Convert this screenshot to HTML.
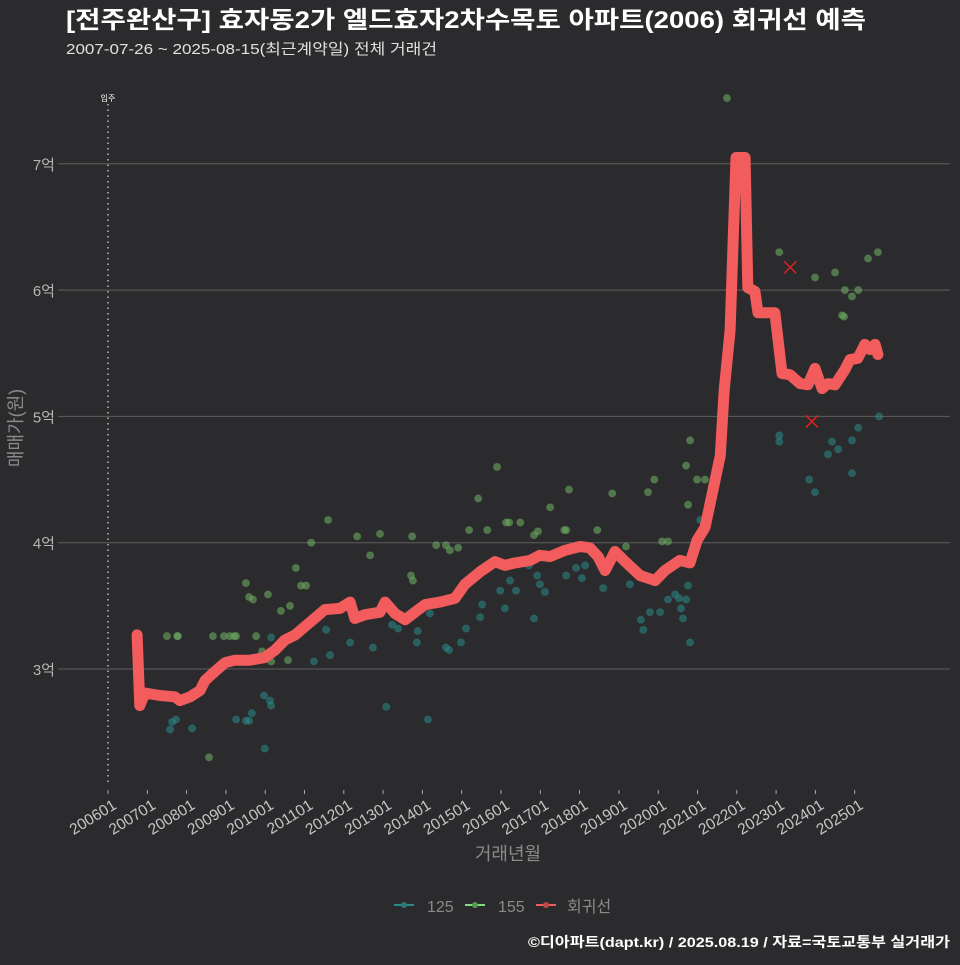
<!DOCTYPE html>
<html><head><meta charset="utf-8"><style>
html,body{margin:0;padding:0;background:#2b2b2d;}
body{width:960px;height:960px;overflow:hidden;font-family:"Liberation Sans","Noto Sans CJK KR",sans-serif;}
</style></head><body>
<svg id="chart" width="960" height="960" viewBox="0 0 960 960" xmlns="http://www.w3.org/2000/svg" style="font-family:'Liberation Sans','Noto Sans CJK KR',sans-serif">
<rect width="960" height="960" fill="#2b2b2d"/>
<text x="66" y="28" font-size="24" font-weight="bold" fill="#ffffff" textLength="800" lengthAdjust="spacingAndGlyphs">[전주완산구] 효자동2가 엘드효자2차수목토 아파트(2006) 회귀선 예측</text>
<text x="66" y="54" font-size="15" fill="#e0e0e0" textLength="371" lengthAdjust="spacingAndGlyphs">2007-07-26 ~ 2025-08-15(최근계약일) 전체 거래건</text>
<g id="grid"></g>
<g id="marks"></g>
<g id="xaxis"></g>
<text x="508" y="860" font-size="18" fill="#8a8a8a" text-anchor="middle">거래년월</text>
<text transform="translate(22,428) rotate(-90)" font-size="18" fill="#8a8a8a" text-anchor="middle">매매가(원)</text>
<g>
 <g><line x1="394" y1="905" x2="414" y2="905" stroke="#2a8a88" stroke-width="2"/><circle cx="404" cy="905" r="3" fill="#2a7a78"/><text x="427" y="912" font-size="16" fill="#8a8a8a">125</text></g>
 <g><line x1="465" y1="905" x2="485" y2="905" stroke="#7ee07a" stroke-width="2"/><circle cx="475" cy="905" r="3" fill="#5a9a50"/><text x="498" y="912" font-size="16" fill="#8a8a8a">155</text></g>
 <g><line x1="536" y1="905" x2="556" y2="905" stroke="#f25c5c" stroke-width="2"/><circle cx="546" cy="905" r="3" fill="#c04848"/><text x="567" y="912" font-size="16" fill="#8a8a8a">회귀선</text></g>
</g>
<text x="528" y="947" font-size="14" font-weight="bold" fill="#ffffff" textLength="422" lengthAdjust="spacingAndGlyphs">©디아파트(dapt.kr) / 2025.08.19 / 자료=국토교통부 실거래가</text>
</svg>
<script>
const yTicks=[3,4,5,6,7];
const yTickLabels=["3억","4억","5억","6억","7억"];
const xTickYears=[2006,2007,2008,2009,2010,2011,2012,2013,2014,2015,2016,2017,2018,2019,2020,2021,2022,2023,2024,2025];
const xTickLabels=["200601","200701","200801","200901","201001","201101","201201","201301","201401","201501","201601","201701","201801","201901","202001","202101","202201","202301","202401","202501"];
const moveInYear=2006;
const regYears=[2006.74,2006.81,2006.94,2007.32,2007.70,2007.83,2008.09,2008.34,2008.47,2008.72,2008.98,2009.23,2009.61,2009.99,2010.25,2010.50,2010.76,2011.14,2011.52,2011.90,2012.16,2012.28,2012.54,2012.92,2013.05,2013.30,2013.56,2013.81,2014.07,2014.45,2014.83,2015.08,2015.47,2015.85,2016.10,2016.36,2016.74,2016.99,2017.25,2017.63,2018.01,2018.26,2018.47,2018.65,2018.90,2019.16,2019.54,2019.92,2020.17,2020.55,2020.81,2020.99,2021.19,2021.37,2021.58,2021.68,2021.83,2021.98,2022.21,2022.28,2022.46,2022.54,2022.97,2023.15,2023.35,2023.61,2023.81,2023.99,2024.17,2024.32,2024.50,2024.75,2024.88,2025.08,2025.26,2025.39,2025.52,2025.59];
const regValues=[3.27,2.71,2.81,2.79,2.78,2.75,2.78,2.83,2.91,2.98,3.05,3.07,3.07,3.09,3.15,3.23,3.27,3.37,3.47,3.48,3.53,3.40,3.43,3.45,3.53,3.44,3.39,3.45,3.51,3.53,3.56,3.67,3.77,3.85,3.82,3.84,3.86,3.90,3.89,3.94,3.97,3.96,3.89,3.78,3.93,3.85,3.74,3.70,3.78,3.86,3.84,4.02,4.12,4.38,4.69,5.21,5.68,7.05,7.05,6.02,5.99,5.82,5.82,5.34,5.33,5.26,5.25,5.38,5.22,5.26,5.25,5.37,5.45,5.46,5.57,5.53,5.57,5.49];
const s155Years=[2007.50,2007.76,2007.78,2008.57,2008.67,2008.95,2009.10,2009.21,2009.26,2009.51,2009.59,2009.69,2009.77,2009.92,2010.07,2010.15,2010.40,2010.50,2010.58,2010.63,2010.78,2010.91,2011.04,2011.17,2011.60,2012.34,2012.67,2012.92,2013.71,2013.76,2013.74,2014.35,2014.60,2014.70,2014.91,2015.19,2015.42,2015.65,2015.90,2016.13,2016.21,2016.49,2016.84,2016.94,2017.25,2017.61,2017.66,2017.73,2018.45,2018.83,2019.18,2019.74,2019.90,2020.10,2020.25,2020.71,2020.76,2020.81,2020.99,2021.19,2021.75,2023.08,2023.99,2024.50,2024.75,2025.09,2024.93,2024.68,2024.73,2025.34,2025.59];
const s155Values=[3.26,3.26,3.26,2.30,3.26,3.26,3.26,3.26,3.26,3.68,3.57,3.55,3.26,3.14,3.59,3.06,3.46,3.21,3.07,3.50,3.80,3.66,3.66,4.00,4.18,4.05,3.90,4.07,3.74,3.70,4.05,3.98,3.98,3.94,3.96,4.10,4.35,4.10,4.60,4.16,4.16,4.16,4.06,4.09,4.28,4.10,4.10,4.42,4.10,4.39,3.97,4.40,4.50,4.01,4.01,4.61,4.30,4.81,4.50,4.50,7.52,6.30,6.10,6.14,6.00,6.00,5.95,5.80,5.79,6.25,6.30];
const s125Years=[2007.58,2007.63,2007.73,2008.14,2009.26,2009.51,2009.59,2009.66,2009.97,2009.99,2010.12,2010.15,2010.15,2010.78,2011.24,2011.55,2011.65,2012.16,2012.74,2013.08,2013.23,2013.38,2013.86,2013.88,2014.14,2014.19,2014.60,2014.68,2014.98,2015.11,2015.47,2015.52,2015.98,2016.10,2016.23,2016.38,2016.71,2016.84,2016.92,2016.99,2017.12,2017.66,2017.91,2018.06,2018.14,2018.60,2019.28,2019.56,2019.62,2019.79,2020.05,2020.25,2020.43,2020.53,2020.58,2020.63,2020.71,2020.76,2020.81,2021.07,2023.08,2023.08,2025.62,2025.09,2024.93,2024.42,2024.58,2024.32,2023.84,2023.99,2024.93];
const s125Values=[2.52,2.58,2.60,2.53,2.60,2.59,2.59,2.65,2.79,2.37,2.75,2.71,3.25,3.27,3.06,3.31,3.11,3.21,3.17,2.70,3.35,3.32,3.21,3.30,2.60,3.44,3.17,3.15,3.21,3.32,3.41,3.51,3.62,3.48,3.70,3.62,3.82,3.40,3.74,3.67,3.61,3.74,3.80,3.72,3.82,3.64,3.67,3.39,3.31,3.45,3.45,3.55,3.59,3.56,3.48,3.40,3.55,3.66,3.21,4.18,4.85,4.80,5.00,4.91,4.81,4.80,4.74,4.70,4.50,4.40,4.55];
const outlierYears=[2023.36,2023.91];
const outlierValues=[6.18,4.96];

const NS="http://www.w3.org/2000/svg";
function X(t){return 108+(t-2006)*39.3;}
function Y(v){return 669-(v-3)*126.3;}
function mk(tag,attrs,parent){const e=document.createElementNS(NS,tag);for(const k in attrs)e.setAttribute(k,attrs[k]);parent.appendChild(e);return e;}
const grid=document.getElementById('grid'),marks=document.getElementById('marks'),xa=document.getElementById('xaxis');
yTicks.forEach((v,i)=>{
 const l=mk('line',{x1:58,x2:950,y1:Y(v),y2:Y(v),stroke:'#5e5e5e','stroke-width':1},grid);
 
 
 const t=mk('text',{x:55,y:Y(v)+6,'font-size':15,fill:'#b5b5b5','text-anchor':'end'},grid);
 t.textContent=yTickLabels[i];
 
 
});
const mv=mk('line',{x1:X(moveInYear),x2:X(moveInYear),y1:104,y2:786,stroke:'#bbbbbb','stroke-width':1.5,'stroke-dasharray':'1.5 4'},grid);


const mvt=mk('text',{x:X(moveInYear),y:101,'font-size':8,fill:'#ffffff','text-anchor':'middle'},grid);
mvt.textContent='입주';


xTickYears.forEach((t,i)=>{
 const x=X(t);
 const tk=mk('line',{x1:x,x2:x,y1:790,y2:794,stroke:'#aaaaaa','stroke-width':1},xa);
 
 
 const tx=mk('text',{transform:`translate(${x+4},${799}) rotate(-32)`,'font-size':15.5,fill:'#c5c5c5','text-anchor':'end','dominant-baseline':'hanging'},xa);
 tx.textContent=xTickLabels[i];
 
 
});
s125Years.forEach((t,i)=>{
 const c=mk('circle',{cx:X(t),cy:Y(s125Values[i]),r:3.6,fill:'#2a8a88','fill-opacity':0.55,stroke:'#2a8a88','stroke-opacity':0.3},marks);
 
 
});
s155Years.forEach((t,i)=>{
 const c=mk('circle',{cx:X(t),cy:Y(s155Values[i]),r:3.6,fill:'#6aa860','fill-opacity':0.6,stroke:'#6aa860','stroke-opacity':0.3},marks);
 
 
});
const pts=regYears.map((t,i)=>X(t).toFixed(1)+','+Y(regValues[i]).toFixed(1)).join(' ');
const pl=mk('polyline',{points:pts,fill:'none',stroke:'#f25c5c','stroke-width':11,'stroke-linejoin':'round','stroke-linecap':'round'},marks);


outlierYears.forEach((t,i)=>{
 const x=X(t),y=Y(outlierValues[i]);
 const g=mk('path',{d:`M${x-6},${y-6}L${x+6},${y+6}M${x+6},${y-6}L${x-6},${y+6}`,stroke:'#e02020','stroke-width':1.5},marks);
 
 
});
</script>
</body></html>
